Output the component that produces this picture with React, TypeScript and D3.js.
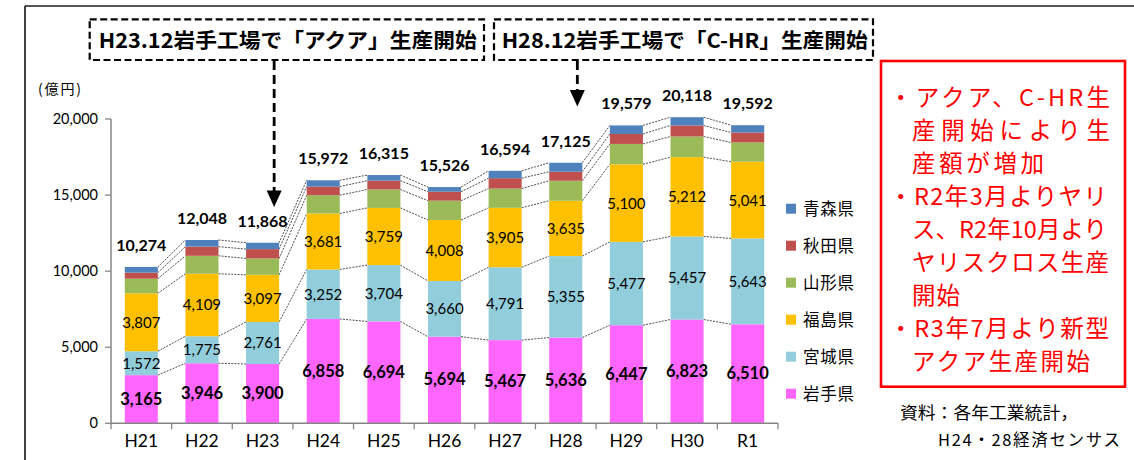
import React from "react";
import * as d3 from "d3";

// ---------- data ----------
const categories = ["H21", "H22", "H23", "H24", "H25", "H26", "H27", "H28", "H29", "H30", "R1"];
const iwate = [3165, 3946, 3900, 6858, 6694, 5694, 5467, 5636, 6447, 6823, 6510];
const miyagi = [1572, 1775, 2761, 3252, 3704, 3660, 4791, 5355, 5477, 5457, 5643];
const fukushima = [3807, 4109, 3097, 3681, 3759, 4008, 3905, 3635, 5100, 5212, 5041];
const yamagata = [960, 1180, 1078, 1200, 1210, 1272, 1268, 1317, 1338, 1358, 1265];
const akita = [400, 600, 612, 568, 580, 590, 678, 592, 655, 723, 655];
const aomori = [370, 438, 420, 413, 368, 302, 485, 590, 562, 545, 478];
const totals = [10274, 12048, 11868, 15972, 16315, 15526, 16594, 17125, 19579, 20118, 19592];
const yTicks = [0, 5000, 10000, 15000, 20000];

const seriesNames = ["岩手県", "宮城県", "福島県", "山形県", "秋田県", "青森県"];
const seriesValues = [iwate, miyagi, fukushima, yamagata, akita, aomori];
const labeledSeries = [true, true, true, false, false, false];

const yUnit = "(億円)";
const annotationTexts = ["H23.12岩手工場で「アクア」生産開始", "H28.12岩手工場で「C-HR」生産開始"];
const annotationTargets = ["H23", "H28"];
const noteLines = [
  "・アクア、C-HR生",
  "産開始により生",
  "産額が増加",
  "・R2年3月よりヤリ",
  "ス、R2年10月より",
  "ヤリスクロス生産",
  "開始",
  "・R3年7月より新型",
  "アクア生産開始",
];
const sourceLines = ["資料：各年工業統計，", "H24・28経済センサス"];

// ---------- styles ----------
const COLORS = ["#FF66FF", "#92CDDC", "#FFC000", "#9BBB59", "#C0504D", "#4F81BD"];
const NUM = "Lato, 'Liberation Sans', sans-serif";
const JP = "'Noto Sans CJK JP', 'Noto Sans', sans-serif";
const W = 1134;
const H = 460;

export default function App() {
  const rows = categories.map((c, i) => {
    const r: any = { cat: c };
    seriesNames.forEach((s, k) => (r[s] = seriesValues[k][i]));
    return r;
  });
  const stacked = d3.stack<any>().keys(seriesNames)(rows);

  const x = d3
    .scaleBand<string>()
    .domain(categories)
    .range([111, 778])
    .paddingInner(0.455)
    .paddingOuter(0.2275);
  const bw = x.bandwidth();
  const step = x.step();
  const y = d3.scaleLinear().domain([0, 20000]).range([423.3, 119]);
  const fmt = d3.format(",");

  const noteStarts = noteLines.map((l) => (l.startsWith("・") ? 889 : 912));
  const noteEnds = [1110, 1110, 1044, 1107, 1107, 1109, 960, 1109, 1090];

  return (
    <svg
      width={W}
      height={H}
      style={{ position: "absolute", left: 0, top: 0, background: "#fff" }}
    >
      {/* outer frame */}
      <line x1={25} x2={W} y1={6} y2={6} stroke="#555" strokeWidth={2} />
      <line x1={25} x2={25} y1={6} y2={H} stroke="#000" strokeWidth={1.5} />

      {/* connector lines */}
      {stacked.map((s, k) =>
        categories.slice(0, -1).map((c, i) => (
          <line
            key={`c${k}-${i}`}
            x1={(x(c) as number) + bw}
            x2={x(categories[i + 1]) as number}
            y1={y(s[i][1])}
            y2={y(s[i + 1][1])}
            stroke="#222"
            strokeWidth={0.8}
            strokeDasharray="2,1.2"
          />
        ))
      )}

      {/* bars */}
      {stacked.map((s, k) =>
        s.map((d, i) => (
          <rect
            key={`b${k}-${i}`}
            x={x(categories[i]) as number}
            y={y(d[1])}
            width={bw}
            height={y(d[0]) - y(d[1])}
            fill={COLORS[k]}
          />
        ))
      )}

      {/* segment labels */}
      {stacked.map((s, k) =>
        labeledSeries[k]
          ? s.map((d, i) => (
              <text
                key={`l${k}-${i}`}
                x={(x(categories[i]) as number) + bw / 2}
                y={(y(d[0]) + y(d[1])) / 2 + 5.5}
                textAnchor="middle"
                fontFamily={NUM}
                fontSize={k === 0 ? 16.5 : 15}
                fontWeight={k === 0 ? 700 : 400}
                fill="#000"
              >
                {fmt(seriesValues[k][i])}
              </text>
            ))
          : null
      )}

      {/* totals */}
      {totals.map((t, i) => (
        <text
          key={`t${i}`}
          x={(x(categories[i]) as number) + bw / 2}
          y={y(t) - 16}
          textAnchor="middle"
          fontFamily={NUM}
          fontSize={16}
          fontWeight={700}
          fill="#000"
        >
          {fmt(t)}
        </text>
      ))}

      {/* y axis */}
      <line x1={111} x2={111} y1={y(20000)} y2={y(0)} stroke="#868686" strokeWidth={1.5} />
      {yTicks.map((t) => (
        <g key={`yt${t}`}>
          <line x1={105} x2={111} y1={y(t)} y2={y(t)} stroke="#868686" strokeWidth={1.3} />
          <text x={98} y={y(t) + 5} textAnchor="end" fontFamily={NUM} fontSize={14.5} fill="#000">
            {fmt(t)}
          </text>
        </g>
      ))}
      <text x={38} y={94} fontFamily={JP} fontSize={14} fill="#000" textLength={43} lengthAdjust="spacing">
        {yUnit}
      </text>

      {/* x axis */}
      <line x1={111} x2={778} y1={y(0)} y2={y(0)} stroke="#868686" strokeWidth={1.5} />
      {d3.range(categories.length + 1).map((i) => (
        <line
          key={`xt${i}`}
          x1={111 + i * step}
          x2={111 + i * step}
          y1={y(0)}
          y2={y(0) + 6}
          stroke="#868686"
          strokeWidth={1.3}
        />
      ))}
      {categories.map((c) => (
        <text
          key={`xl${c}`}
          x={(x(c) as number) + bw / 2}
          y={447}
          textAnchor="middle"
          fontFamily={NUM}
          fontSize={17.5}
          fill="#000"
        >
          {c}
        </text>
      ))}

      {/* legend */}
      {seriesNames
        .map((n, k) => ({ n, k }))
        .reverse()
        .map(({ n, k }, j) => (
          <g key={`lg${k}`}>
            <rect x={786} y={208.7 + j * 37 - 5} width={10} height={10} fill={COLORS[k]} />
            <text
              x={803}
              y={208.7 + j * 37 + 6}
              fontFamily={JP}
              fontSize={16.5}
              fill="#000"
              textLength={51}
              lengthAdjust="spacing"
            >
              {n}
            </text>
          </g>
        ))}

      {/* annotation boxes */}
      {[
        { x0: 89.7, x1: 484, tx: 98.7, tl: 378 },
        { x0: 494, x1: 873, tx: 501.7, tl: 366 },
      ].map((b, i) => (
        <g key={`an${i}`}>
          <rect
            x={b.x0}
            y={19.3}
            width={b.x1 - b.x0}
            height={40.7}
            fill="#fff"
            stroke="#000"
            strokeWidth={2.2}
            strokeDasharray="7,3.5"
          />
          <text
            x={b.tx}
            y={48}
            fontFamily={JP}
            fontSize={20.5}
            fontWeight={700}
            fill="#000"
            textLength={b.tl}
            lengthAdjust="spacingAndGlyphs"
          >
            {annotationTexts[i]}
          </text>
        </g>
      ))}

      {/* arrows */}
      {annotationTargets.map((c, i) => {
        const ax = (x(c) as number) + bw * 0.85;
        const tipY = i === 0 ? 207 : 106.5;
        return (
          <g key={`ar${i}`}>
            <line
              x1={ax}
              x2={ax}
              y1={61}
              y2={tipY - 16}
              stroke="#000"
              strokeWidth={2.8}
              strokeDasharray="9,5"
            />
            <path
              d={`M${ax - 7.5},${tipY - 16.5} L${ax + 7.5},${tipY - 16.5} L${ax},${tipY} Z`}
              fill="#000"
            />
          </g>
        );
      })}

      {/* red note box */}
      <rect x={881} y={61} width={244} height={325.7} fill="#fff" stroke="#FF0000" strokeWidth={2.6} />
      {noteLines.map((l, i) => (
        <text
          key={`nl${i}`}
          x={noteStarts[i]}
          y={105.5 + i * 33.1}
          fontFamily={JP}
          fontSize={23.5}
          fill="#FF0000"
          textLength={noteEnds[i] - noteStarts[i]}
          lengthAdjust="spacing"
        >
          {l}
        </text>
      ))}

      {/* source */}
      <text x={900} y={419} fontFamily={JP} fontSize={16.5} fill="#000" textLength={178} lengthAdjust="spacingAndGlyphs">
        {sourceLines[0]}
      </text>
      <text x={938} y={446} fontFamily={JP} fontSize={16.5} fill="#000" textLength={182} lengthAdjust="spacing">
        {sourceLines[1]}
      </text>
    </svg>
  );
}
